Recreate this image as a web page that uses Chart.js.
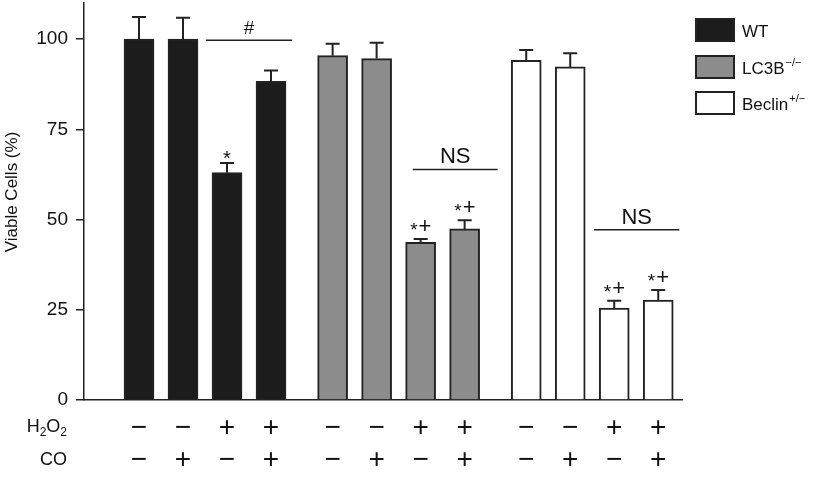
<!DOCTYPE html>
<html>
<head>
<meta charset="utf-8">
<script src="https://cdn.jsdelivr.net/npm/chart.js@4.4.0/dist/chart.umd.min.js"></script>
<style>
html, body { margin: 0; padding: 0; background: #fff; }
#wrap { width: 814px; height: 498px; }
</style>
</head>
<body>
<div id="wrap"><canvas id="mycanvas"></canvas></div>
<script>
/* Genotype groups, legend text */
var groups = ['WT', 'LC3B', 'Beclin'];
var groupSup = ['', '\u2212/\u2212', '+/\u2212'];

/* Treatment rows under the bars */
var h2o2Signs = ['\u2212', '\u2212', '+', '+', '\u2212', '\u2212', '+', '+', '\u2212', '\u2212', '+', '+'];
var coSigns = ['\u2212', '+', '\u2212', '+', '\u2212', '+', '\u2212', '+', '\u2212', '+', '\u2212', '+'];

/* Viable cells (%) and error per bar */
var wtValues = [100, 100, 63, 88.3];
var wtErrors = [6.1, 5.9, 2.7, 3.0];
var lc3bValues = [95.4, 94.6, 43.7, 47.4];
var lc3bErrors = [3.3, 4.4, 0.9, 2.4];
var beclinValues = [94.1, 92.3, 25.5, 27.7];
var beclinErrors = [2.9, 3.8, 2.0, 2.8];

var yTicks = [0, 25, 50, 75, 100];

/* Significance marks above bars */
var barMarks = ['', '', '*', '', '', '', '*+', '*+', '', '', '*+', '*+'];

/* Comparison lines between bar pairs */
var brackets = [
	{ from: 2, to: 3, label: '#', y: 99.7, padL: 0.48, padR: 0.48 },
	{ from: 6, to: 7, label: 'NS', y: 63.9, padL: 0.18, padR: 0.75 },
	{ from: 10, to: 11, label: 'NS', y: 47.2, padL: 0.46, padR: 0.48 }
];

var fillColors = ['#1c1c1c', '#8c8c8c', '#ffffff'];
var lineColor = '#222';
var textColor = '#111';
var FONT = "'Liberation Sans', Arial, Helvetica, sans-serif";

/* Bars sit in groups of four with a small gap between groups */
var groupGap = 0.4;
function barPos(i) {
	return Math.floor(i / 4) * (4 + groupGap) + (i % 4);
}
var positions = [];
for (var i = 0; i < 12; i++) positions.push(barPos(i));

var allValues = [wtValues, lc3bValues, beclinValues];
var allErrors = [wtErrors, lc3bErrors, beclinErrors];

var datasets = [];
for (var g = 0; g < 3; g++) {
	datasets.push({
		label: groups[g],
		data: allValues[g].map(function (v, j) { return { x: barPos(g * 4 + j), y: v }; }),
		backgroundColor: fillColors[g],
		borderColor: lineColor,
		borderWidth: 2,
		barThickness: 30,
		grouped: false
	});
}

/* Error bars, marks, brackets, legend and side labels */
var extras = {
	id: 'extras',
	afterDatasetsDraw: function (chart) {
		var ctx = chart.ctx;
		var xs = chart.scales.x, ys = chart.scales.y;
		ctx.save();
		ctx.strokeStyle = lineColor;
		ctx.lineWidth = 2;
		for (var g = 0; g < 3; g++) {
			for (var j = 0; j < 4; j++) {
				var idx = g * 4 + j;
				var px = xs.getPixelForValue(positions[idx]);
				var top = ys.getPixelForValue(allValues[g][j]);
				var cap = ys.getPixelForValue(allValues[g][j] + allErrors[g][j]);
				ctx.beginPath();
				ctx.moveTo(px, top);
				ctx.lineTo(px, cap);
				ctx.moveTo(px - 7, cap);
				ctx.lineTo(px + 7, cap);
				ctx.stroke();

				/* star / plus marks */
				if (barMarks[idx]) {
					ctx.fillStyle = textColor;
					ctx.textBaseline = 'alphabetic';
					var base = cap - 6;
					if (barMarks[idx] === '*') {
						ctx.font = '20px ' + FONT;
						ctx.textAlign = 'center';
						ctx.fillText('*', px, base + 8);
					} else {
						ctx.font = '19px ' + FONT;
						ctx.textAlign = 'right';
						ctx.fillText('*', px - 3, base + 3);
						ctx.font = '22px ' + FONT;
						ctx.textAlign = 'left';
						ctx.fillText('+', px - 2, base);
					}
				}
			}
		}

		/* comparison lines */
		brackets.forEach(function (b) {
			var x0 = xs.getPixelForValue(positions[b.from] - b.padL);
			var x1 = xs.getPixelForValue(positions[b.to] + b.padR);
			var y = ys.getPixelForValue(b.y);
			ctx.lineWidth = 1.5;
			ctx.beginPath();
			ctx.moveTo(x0, y);
			ctx.lineTo(x1, y);
			ctx.stroke();
			ctx.fillStyle = textColor;
			ctx.font = (b.label === '#' ? '19px ' : '22px ') + FONT;
			ctx.textAlign = 'center';
			ctx.textBaseline = 'alphabetic';
			ctx.fillText(b.label, (x0 + x1) / 2, y - 6);
		});
		ctx.restore();
	},
	afterDraw: function (chart) {
		var ctx = chart.ctx;
		ctx.save();
		ctx.fillStyle = textColor;

		/* y axis title */
		ctx.translate(12, 192);
		ctx.rotate(-Math.PI / 2);
		ctx.font = '17px ' + FONT;
		ctx.textAlign = 'center';
		ctx.textBaseline = 'middle';
		ctx.fillText('Viable Cells (%)', 0, 0);
		ctx.setTransform(1, 0, 0, 1, 0, 0);

		/* row labels: H2O2 and CO */
		ctx.textBaseline = 'alphabetic';
		ctx.textAlign = 'left';
		var big = '18px ' + FONT, small = '12px ' + FONT;
		var parts = [['H', big, 0], ['2', small, 4], ['O', big, 0], ['2', small, 4]];
		var total = 0;
		parts.forEach(function (p) { ctx.font = p[1]; total += ctx.measureText(p[0]).width; });
		var x = 67 - total;
		parts.forEach(function (p) {
			ctx.font = p[1];
			ctx.fillText(p[0], x, 431.5 + p[2]);
			x += ctx.measureText(p[0]).width;
		});
		ctx.font = big;
		ctx.textAlign = 'right';
		ctx.fillText('CO', 67, 465);

		/* legend */
		var boxTops = [19, 56, 92];
		for (var g = 0; g < 3; g++) {
			ctx.fillStyle = fillColors[g];
			ctx.fillRect(696, boxTops[g], 38, 22);
			ctx.strokeStyle = lineColor;
			ctx.lineWidth = 2;
			ctx.strokeRect(696, boxTops[g], 38, 22);
			ctx.fillStyle = textColor;
			ctx.textAlign = 'left';
			ctx.font = '17px ' + FONT;
			var base = boxTops[g] + 17.5;
			ctx.fillText(groups[g], 742, base);
			if (groupSup[g]) {
				var w = ctx.measureText(groups[g]).width;
				ctx.font = '11px ' + FONT;
				ctx.fillText(groupSup[g], 742 + w + 1, base - 8);
			}
		}
		ctx.restore();
	}
};

function noPad(scale) {
	scale.paddingTop = 0;
	scale.paddingBottom = 0;
	scale.paddingLeft = 0;
	scale.paddingRight = 0;
}

var ctx = document.getElementById('mycanvas');
var barGraph = new Chart(ctx, {
	type: 'bar',
	data: { datasets: datasets },
	options: {
		responsive: true,
		maintainAspectRatio: false,
		animation: false,
		layout: { padding: { top: 3, right: 132, left: 0, bottom: 0 } },
		plugins: {
			legend: { display: false },
			tooltip: { enabled: false }
		},
		scales: {
			x: {
				type: 'linear',
				offset: false,
				min: -1.25,
				max: 12.34,
				grid: { display: false, drawTicks: false, offset: false },
				border: { display: true, color: lineColor, width: 1.5 },
				afterBuildTicks: function (scale) {
					scale.ticks = positions.map(function (p) { return { value: p }; });
				},
				afterFit: function (scale) { scale.height = 98; noPad(scale); },
				ticks: {
					autoSkip: false,
					maxRotation: 0,
					padding: 12,
					color: textColor,
					font: { family: FONT, size: 28, lineHeight: '32px' },
					callback: function (value, index) {
						return [h2o2Signs[index], coSigns[index]];
					}
				}
			},
			y: {
				min: 0,
				max: 110,
				afterBuildTicks: function (scale) {
					scale.ticks = yTicks.map(function (v) { return { value: v }; });
				},
				afterFit: function (scale) { scale.width = 84; noPad(scale); },
				grid: { drawOnChartArea: false, drawTicks: true, tickLength: 8, color: lineColor, lineWidth: 1.5 },
				border: { display: true, color: lineColor, width: 1.5 },
				ticks: {
					padding: 8,
					color: textColor,
					font: { family: FONT, size: 19 }
				}
			}
		}
	},
	plugins: [extras]
});
</script>
</body>
</html>
